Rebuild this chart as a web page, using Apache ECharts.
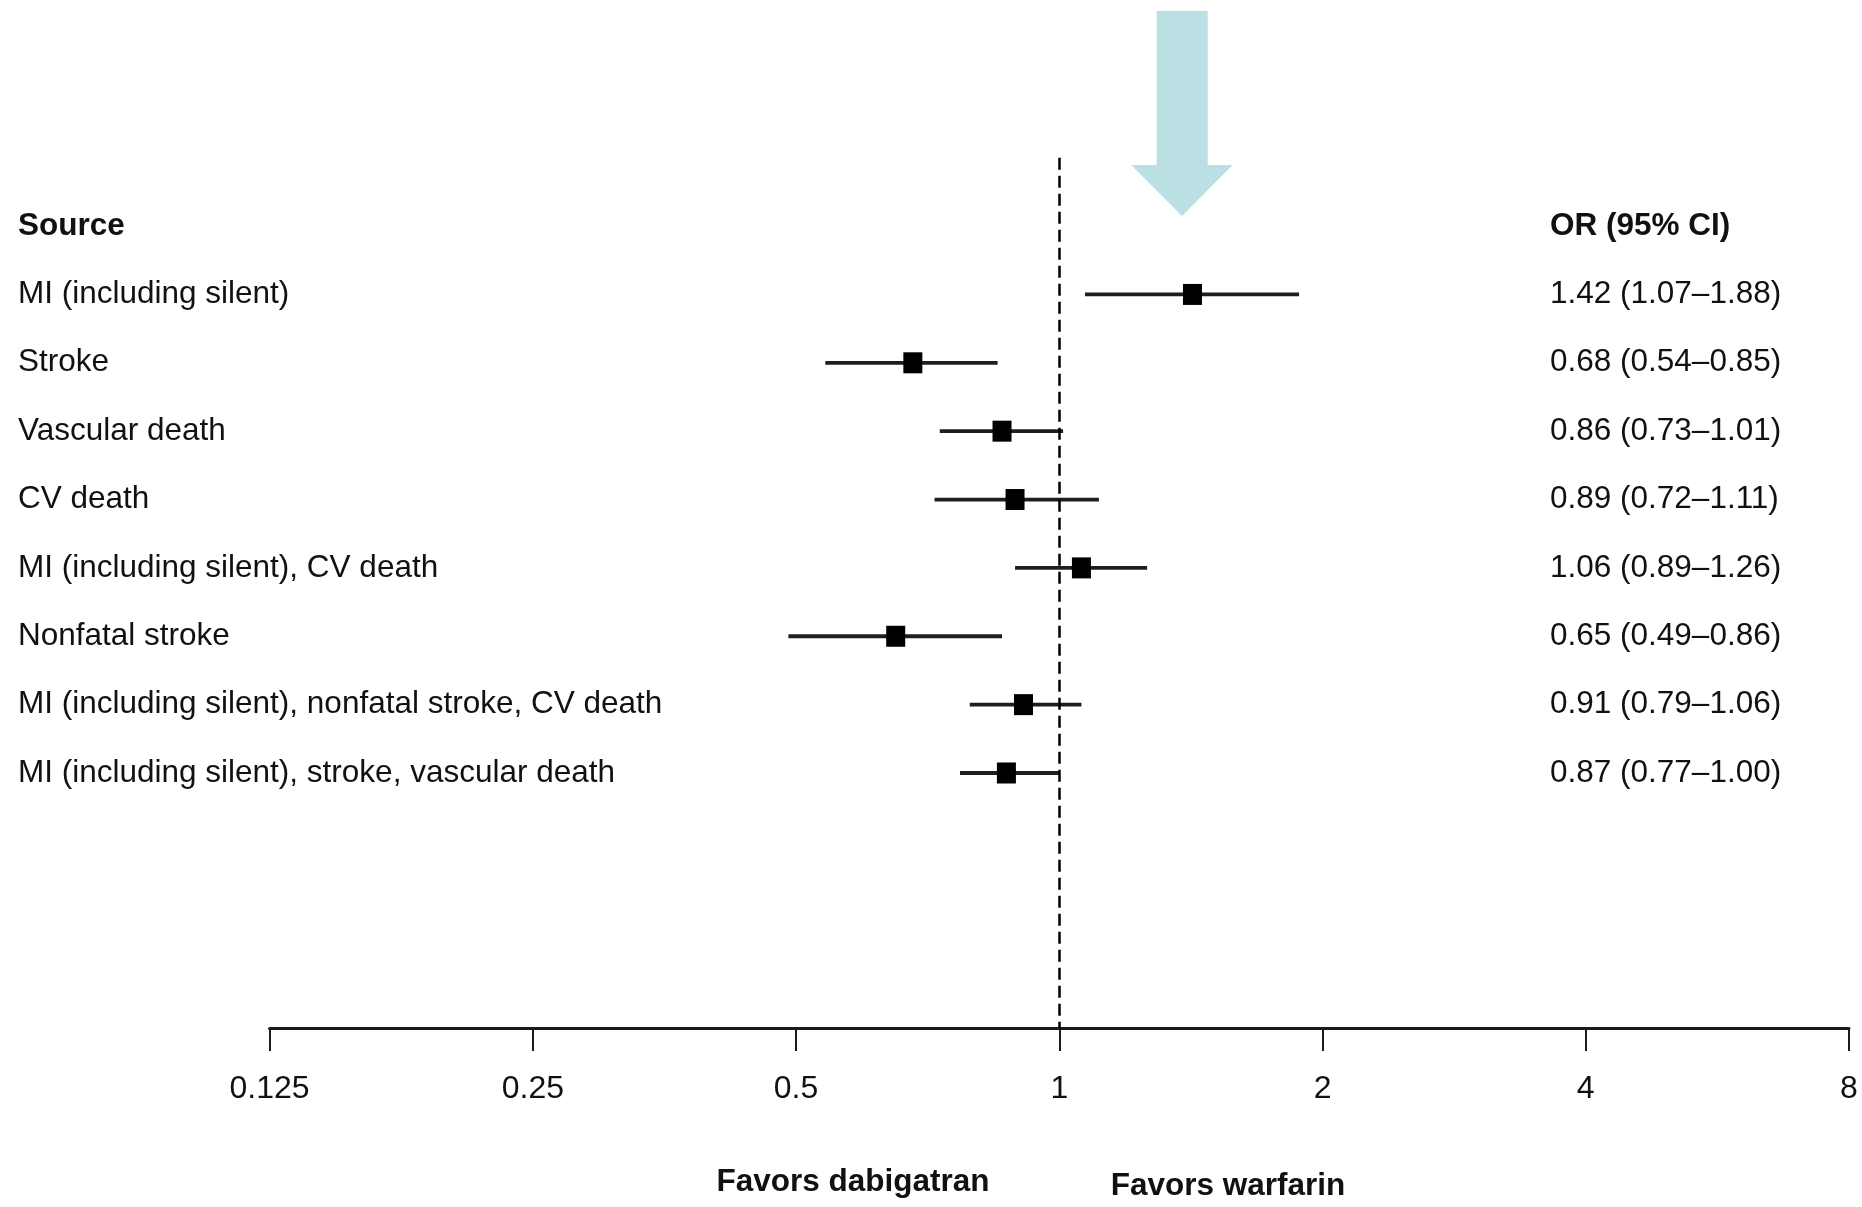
<!DOCTYPE html>
<html>
<head>
<meta charset="utf-8">
<script src="https://cdn.jsdelivr.net/npm/echarts@6/dist/echarts.min.js"></script>
<style>
  html, body { margin: 0; padding: 0; background: #fff; }
  #chart { width: 1862px; height: 1207px; }
</style>
</head>
<body>
<div id="chart"></div>
<script>
// ---- data ----
const headerLeft = 'Source';
const headerRight = 'OR (95% CI)';
const sources = [
  'MI (including silent)',
  'Stroke',
  'Vascular death',
  'CV death',
  'MI (including silent), CV death',
  'Nonfatal stroke',
  'MI (including silent), nonfatal stroke, CV death',
  'MI (including silent), stroke, vascular death'
];
const orValues = [1.42, 0.68, 0.86, 0.89, 1.06, 0.65, 0.91, 0.87];
const ciLower  = [1.07, 0.54, 0.73, 0.72, 0.89, 0.49, 0.79, 0.77];
const ciUpper  = [1.88, 0.85, 1.01, 1.11, 1.26, 0.86, 1.06, 1.00];
const xTicks = [0.125, 0.25, 0.5, 1, 2, 4, 8];
const favorsLeft = 'Favors dabigatran';
const favorsRight = 'Favors warfarin';

// ---- build ----
const FONT = "'Liberation Sans', Arial, sans-serif";
const FS = 31.5;
const rows = sources.map((s, i) => [orValues[i], ciLower[i], ciUpper[i], i + 1]);
const rightTexts = orValues.map((v, i) =>
  v.toFixed(2) + ' (' + ciLower[i].toFixed(2) + '\u2013' + ciUpper[i].toFixed(2) + ')');

function fmtTick(v) {
  let best = null;
  xTicks.forEach(t => { if (Math.abs(t - v) / t < 1e-6) best = t; });
  return best === null ? '' : String(best);
}

const chart = echarts.init(document.getElementById('chart'), null, { renderer: 'canvas' });

const GRID_LEFT = 269.6, GRID_RIGHT_X = 1849, GRID_TOP = 157.7, GRID_BOTTOM_Y = 1028;

const option = {
  animation: false,
  backgroundColor: '#ffffff',
  grid: {
    left: GRID_LEFT,
    right: 1862 - GRID_RIGHT_X,
    top: GRID_TOP,
    bottom: 1207 - GRID_BOTTOM_Y,
    containLabel: false
  },
  xAxis: {
    type: 'log',
    logBase: 2,
    min: 0.125,
    max: 8,
    interval: 1,
    position: 'bottom',
    axisLine: { show: true, onZero: false, lineStyle: { color: '#1a1a1a', width: 3 } },
    axisTick: { show: true, length: 23, lineStyle: { color: '#1a1a1a', width: 2 } },
    axisLabel: {
      show: true, margin: 45, color: '#111', fontSize: 32, fontFamily: FONT,
      formatter: fmtTick, showMinLabel: true, showMaxLabel: true
    },
    splitLine: { show: false }
  },
  yAxis: [
    {
      type: 'value',
      inverse: true,
      min: -1,
      max: 11.73,
      interval: 1,
      position: 'left',
      axisLine: { show: false },
      axisTick: { show: false },
      splitLine: { show: false },
      axisLabel: {
        show: true,
        align: 'left',
        margin: GRID_LEFT - 18,
        color: '#111',
        fontSize: FS,
        fontFamily: FONT,
        showMinLabel: true, showMaxLabel: true,
        formatter: function (v) {
          const r = Math.round(v);
          if (Math.abs(r - v) > 1e-6) return '';
          if (r === 0) return '{b|' + headerLeft + '}';
          if (r >= 1 && r <= sources.length) return sources[r - 1];
          return '';
        },
        rich: { b: { fontWeight: 'bold', fontSize: FS, fontFamily: FONT, color: '#111' } }
      }
    },
    {
      type: 'value',
      inverse: true,
      min: -1,
      max: 11.73,
      interval: 1,
      position: 'right',
      axisLine: { show: false },
      axisTick: { show: false },
      splitLine: { show: false },
      axisLabel: {
        show: true,
        align: 'left',
        margin: 1550 - GRID_RIGHT_X,
        color: '#111',
        fontSize: FS,
        fontFamily: FONT,
        showMinLabel: true, showMaxLabel: true,
        formatter: function (v) {
          const r = Math.round(v);
          if (Math.abs(r - v) > 1e-6) return '';
          if (r === 0) return '{b|' + headerRight + '}';
          if (r >= 1 && r <= rightTexts.length) return rightTexts[r - 1];
          return '';
        },
        rich: { b: { fontWeight: 'bold', fontSize: FS, fontFamily: FONT, color: '#111' } }
      }
    }
  ],
  series: [
    {
      type: 'custom',
      xAxisIndex: 0,
      yAxisIndex: 0,
      encode: { x: [0, 1, 2], y: 3 },
      data: rows,
      clip: false,
      renderItem: function (params, api) {
        const y = api.value(3);
        const pLo = api.coord([api.value(1), y]);
        const pHi = api.coord([api.value(2), y]);
        const pE = api.coord([api.value(0), y]);
        const w = 19, h = 21;
        return {
          type: 'group',
          children: [
            {
              type: 'line',
              shape: { x1: pLo[0], y1: pLo[1], x2: pHi[0], y2: pHi[1] },
              style: { stroke: '#1e1e1e', lineWidth: 3.8 }
            },
            {
              type: 'rect',
              shape: { x: pE[0] - w / 2, y: pE[1] - h / 2, width: w, height: h },
              style: { fill: '#000' },
              z2: 10
            }
          ]
        };
      },
      markLine: {
        silent: true,
        symbol: 'none',
        label: { show: false },
        lineStyle: { color: '#000', width: 2.5, type: [12, 6] },
        data: [{ xAxis: 1 }],
        z: 5
      }
    }
  ],
  graphic: [
    {
      type: 'polygon',
      shape: {
        points: [[1156.7, 11], [1207.7, 11], [1207.7, 165], [1232.7, 165],
                 [1182, 216], [1131, 165], [1156.7, 165]]
      },
      style: { fill: '#bae0e3' },
      silent: true
    },
    {
      type: 'text',
      x: 853, y: 1182,
      style: {
        text: favorsLeft, fill: '#111', font: 'bold ' + FS + 'px ' + FONT,
        textAlign: 'center', textVerticalAlign: 'middle'
      }
    },
    {
      type: 'text',
      x: 1228, y: 1186,
      style: {
        text: favorsRight, fill: '#111', font: 'bold ' + FS + 'px ' + FONT,
        textAlign: 'center', textVerticalAlign: 'middle'
      }
    }
  ]
};
chart.setOption(option);
</script>
</body>
</html>
